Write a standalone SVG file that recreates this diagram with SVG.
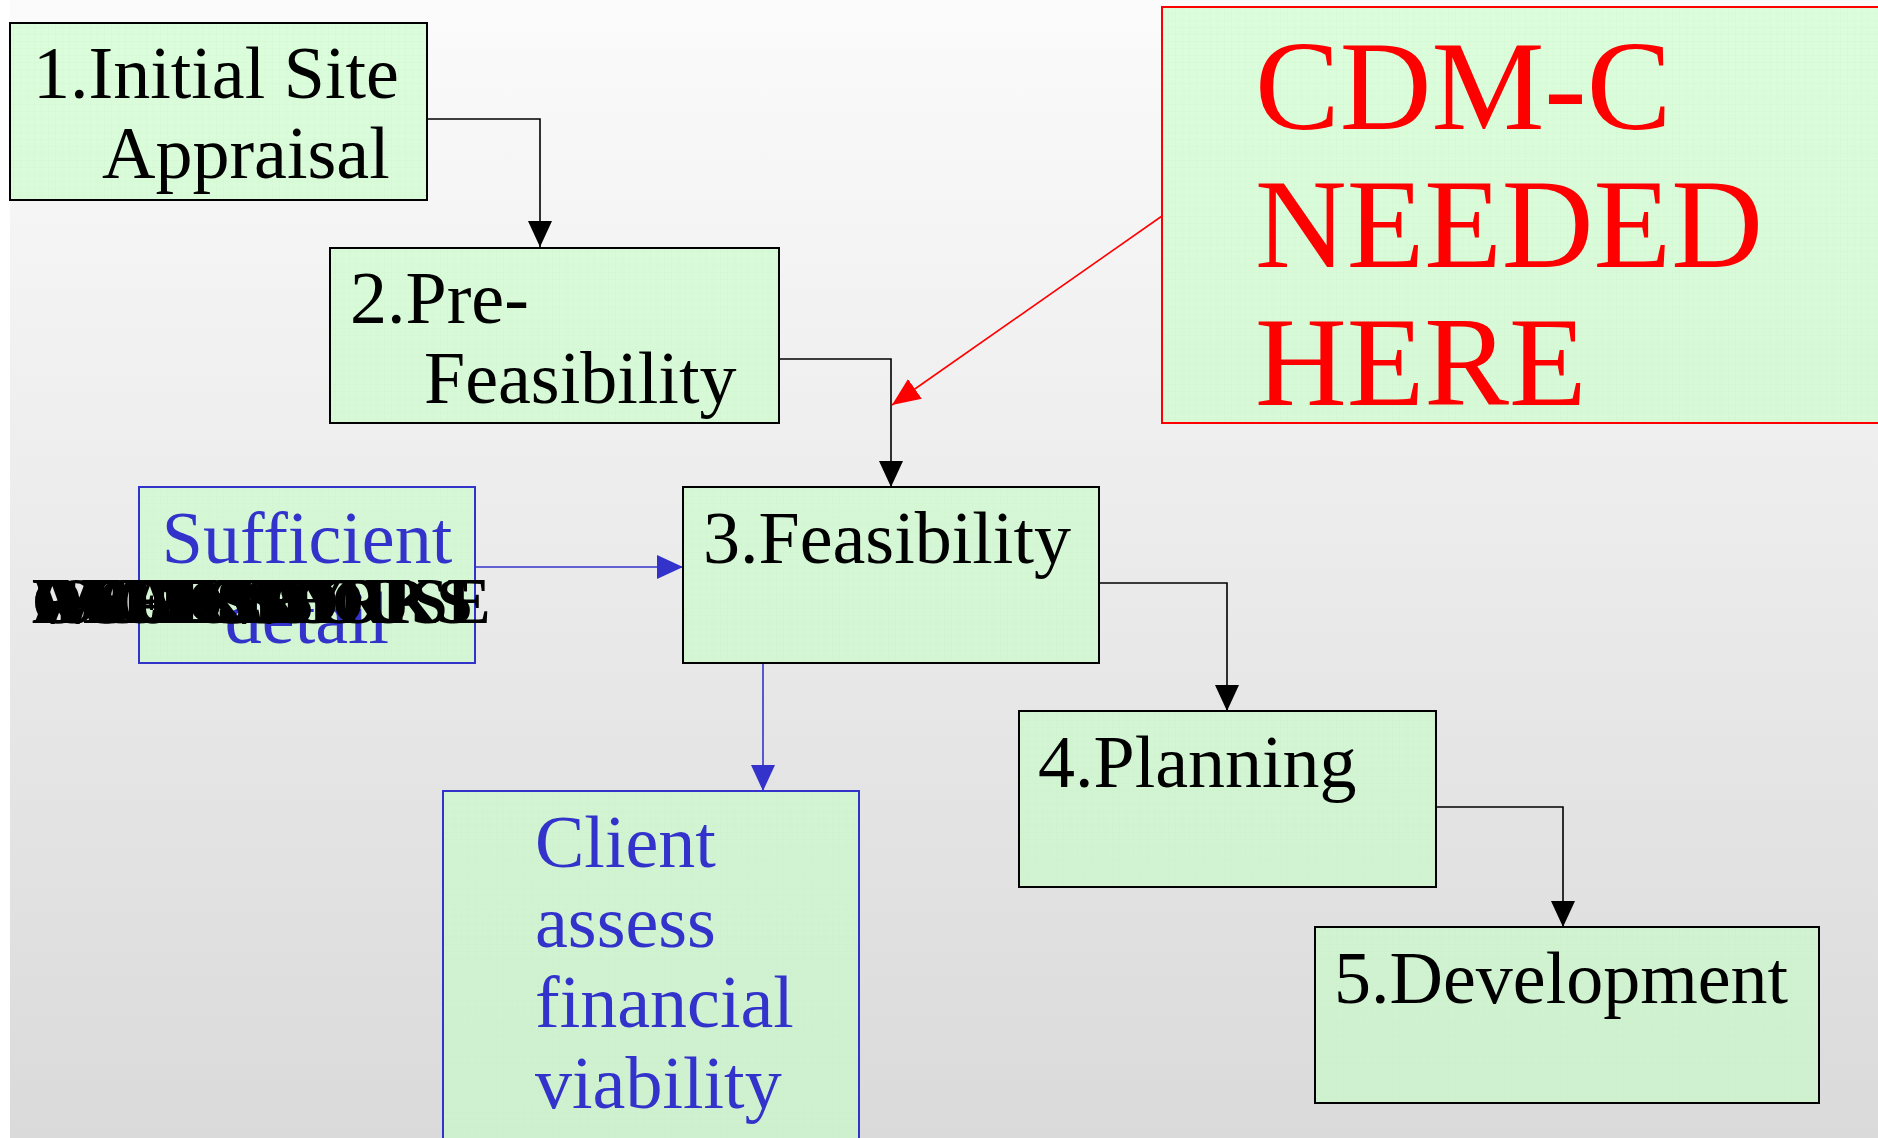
<svg xmlns="http://www.w3.org/2000/svg" width="1878" height="1138" viewBox="0 0 1878 1138">
<defs>
  <linearGradient id="bg" x1="0" y1="0" x2="0" y2="1">
    <stop offset="0" stop-color="#fbfbfb"/>
    <stop offset="1" stop-color="#dadada"/>
  </linearGradient>
  <pattern id="grid" width="7" height="7" patternUnits="userSpaceOnUse">
    <rect width="7" height="7" fill="rgb(200,255,200)" fill-opacity="0.6"/>
    <path d="M7,0 V7 M0,7 H7" stroke="#b8ecb8" stroke-width="0.6" stroke-opacity="0.5" fill="none"/>
  </pattern>
  <marker id="ab" viewBox="0 0 26 24" markerWidth="26" markerHeight="24" refX="26" refY="12" orient="auto" markerUnits="userSpaceOnUse">
    <path d="M0,0 L26,12 L0,24 z" fill="#000"/>
  </marker>
  <marker id="au" viewBox="0 0 26 24" markerWidth="26" markerHeight="24" refX="26" refY="12" orient="auto" markerUnits="userSpaceOnUse">
    <path d="M0,0 L26,12 L0,24 z" fill="#3333cc"/>
  </marker>
  <marker id="ar" viewBox="0 0 28 24" markerWidth="28" markerHeight="24" refX="28" refY="12" orient="auto" markerUnits="userSpaceOnUse">
    <path d="M0,0 L28,12 L0,24 z" fill="#ff0000"/>
  </marker>
</defs>
<style>
  .box { fill: url(#grid); stroke: #000; stroke-width: 2; }
  .bbox { fill: url(#grid); stroke: #3333cc; stroke-width: 2; }
  .rbox { fill: url(#grid); stroke: #ff0000; stroke-width: 2; }
  .t { font-family: "Liberation Serif", "Times New Roman", serif; font-size: 74px; fill: #000; }
  .tb { font-family: "Liberation Serif", "Times New Roman", serif; font-size: 74px; fill: #3333cc; }
  .tr { font-family: "Liberation Serif", "Times New Roman", serif; font-size: 127px; fill: #ff0000; }
  .ov { font-family: "Liberation Serif", "Times New Roman", serif; font-size: 65px; font-weight: bold; fill: #000; }
  .c { fill: none; stroke: #000; stroke-width: 1.6; }
  .cb { fill: none; stroke: #3333cc; stroke-width: 1.6; }
  .cr { fill: none; stroke: #ff0000; stroke-width: 1.6; }
</style>
<rect x="0" y="0" width="1878" height="1138" fill="#ffffff"/>
<rect x="10" y="0" width="1868" height="1138" fill="url(#bg)"/>

<g id="connectors">
  <path class="c" d="M427,119 H540 V247" marker-end="url(#ab)"/>
  <path class="c" d="M779,359 H891 V487" marker-end="url(#ab)"/>
  <path class="c" d="M1099,583 H1227 V711" marker-end="url(#ab)"/>
  <path class="c" d="M1436,807 H1563 V927" marker-end="url(#ab)"/>
  <path class="cr" d="M1162,216 L892,405" marker-end="url(#ar)"/>
  <path class="cb" d="M475,567 H683" marker-end="url(#au)"/>
  <path class="cb" d="M763,663 V791" marker-end="url(#au)"/>
</g>

<g id="node1">
  <rect class="box" x="10" y="23" width="417" height="177"/>
  <text class="t" x="33" y="98">1.Initial Site</text>
  <text class="t" x="102" y="178">Appraisal</text>
</g>
<g id="node2">
  <rect class="box" x="330" y="248" width="449" height="175"/>
  <text class="t" x="350" y="323">2.Pre-</text>
  <text class="t" x="424" y="403">Feasibility</text>
</g>
<g id="node3">
  <rect class="box" x="683" y="487" width="416" height="176"/>
  <text class="t" x="703" y="563">3.Feasibility</text>
</g>
<g id="node4">
  <rect class="box" x="1019" y="711" width="417" height="176"/>
  <text class="t" x="1038" y="787">4.Planning</text>
</g>
<g id="node5">
  <rect class="box" x="1315" y="927" width="504" height="176"/>
  <text class="t" x="1334" y="1003">5.Development</text>
</g>
<g id="sufficient">
  <rect class="bbox" x="139" y="487" width="336" height="176"/>
  <text class="tb" x="307" y="563" text-anchor="middle">Sufficient</text>
  <text class="tb" x="307" y="643" text-anchor="middle">detail</text>
</g>
<g id="client">
  <rect class="bbox" x="443" y="791" width="416" height="400"/>
  <text class="tb" x="535" y="867">Client</text>
  <text class="tb" x="535" y="947">assess</text>
  <text class="tb" x="535" y="1027">financial</text>
  <text class="tb" x="535" y="1108">viability</text>
</g>
<g id="cdm">
  <rect class="rbox" x="1162" y="7" width="730" height="416"/>
  <text class="tr" x="1255" y="129">CDM-C</text>
  <text class="tr" x="1255" y="267">NEEDED</text>
  <text class="tr" x="1255" y="405">HERE</text>
</g>
<g id="overlap-text">
  <text class="ov" x="32" y="623">FACTORY</text>
  <text class="ov" x="32" y="623">ROADWORKS</text>
  <text class="ov" x="32" y="623">ACCESS</text>
  <text class="ov" x="32" y="623">ISSUES</text>
  <text class="ov" x="32" y="623">WORKSHOP</text>
  <text class="ov" x="32" y="623">OFFICES</text>
  <text class="ov" x="32" y="623">GREENHOUSE</text>
</g>
</svg>
